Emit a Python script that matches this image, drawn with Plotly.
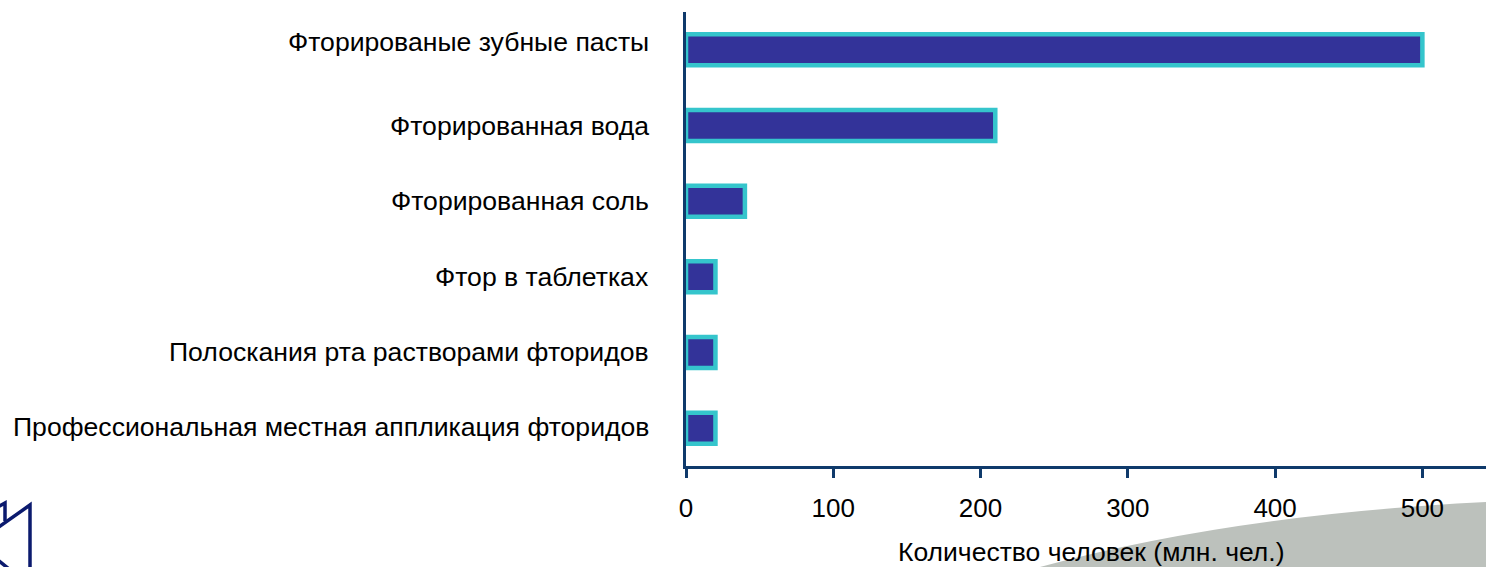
import plotly.graph_objects as go

categories = ["Фторированые зубные пасты", "Фторированная вода", "Фторированная соль",
              "Фтор в таблетках", "Полоскания рта растворами фторидов",
              "Профессиональная местная аппликация фторидов"]
values = [500, 210, 40, 20, 20, 20]
x_ticks = [0, 100, 200, 300, 400, 500]
x_title = "Количество человек (млн. чел.)"
label_shift = [8, 0, 0, 0, 1, 1]

W, H = 1486, 567
L, T, B = 686, 12, 101
PW, PH = W - L, H - T - B

def px(x): return (x - L) / PW
def py(y): return 1 - (y - T) / PH
def pt(x, y): return f"{px(x):.5f} {py(y):.5f}"

fig = go.Figure(go.Bar(
    y=categories, x=values, orientation="h", width=0.41,
    marker=dict(color="#333399", line=dict(color="#35C5CC", width=4.5)),
    hoverinfo="skip",
))

ground = f"M {pt(1040,567)} Q {pt(1230,515)} {pt(1486,502)} L {pt(1486,567)} Z"
logo_a = f"M {pt(-4,529)} L {pt(30,505)} L {pt(30,570)}"
logo_b = f"M {pt(-2,507)} L {pt(5,503)} L {pt(5,521)}"
logo_c = f"M {pt(-2,560)} L {pt(9,569)}"
shapes = [dict(type="path", xref="paper", yref="paper", path=ground, layer="below",
               fillcolor="#BCC1BC", line=dict(width=0))]
for p in (logo_a, logo_b, logo_c):
    shapes.append(dict(type="path", xref="paper", yref="paper", path=p, layer="below",
                       line=dict(color="#0B1A6E", width=3.5)))

annotations = [dict(text=c, xref="x", yref="y", x=0, y=c, xanchor="right", yanchor="middle",
                    xshift=-35, yshift=s, showarrow=False, font=dict(size=26.6, color="black"))
               for c, s in zip(categories, label_shift)]
annotations.append(dict(text=x_title, xref="paper", yref="paper", x=px(1091.5), y=py(551.5),
                        xanchor="center", yanchor="middle", showarrow=False, borderpad=0,
                        font=dict(size=26.5, color="black")))

fig.update_layout(
    width=W, height=H, margin=dict(l=L, r=0, t=T, b=B, pad=0),
    paper_bgcolor="white", plot_bgcolor="rgba(0,0,0,0)", showlegend=False,
    font=dict(family="Liberation Sans, Arial, sans-serif", color="black"),
    shapes=shapes,
    xaxis=dict(range=[0, 543.2], tickvals=x_ticks, ticks="outside", ticklen=9, tickwidth=3,
               tickcolor="#0F3A6B", showline=True, linecolor="#0F3A6B", linewidth=3,
               showgrid=False, zeroline=False, tickfont=dict(size=26), ticklabelstandoff=8),
    yaxis=dict(autorange="reversed", type="category", showline=True, linecolor="#0F3A6B",
               linewidth=3, showgrid=False, ticks="", showticklabels=False),
    annotations=annotations,
)

fig.write_html("out.html", config=dict(displayModeBar=False),
               post_script="document.body.style.margin='0';")
